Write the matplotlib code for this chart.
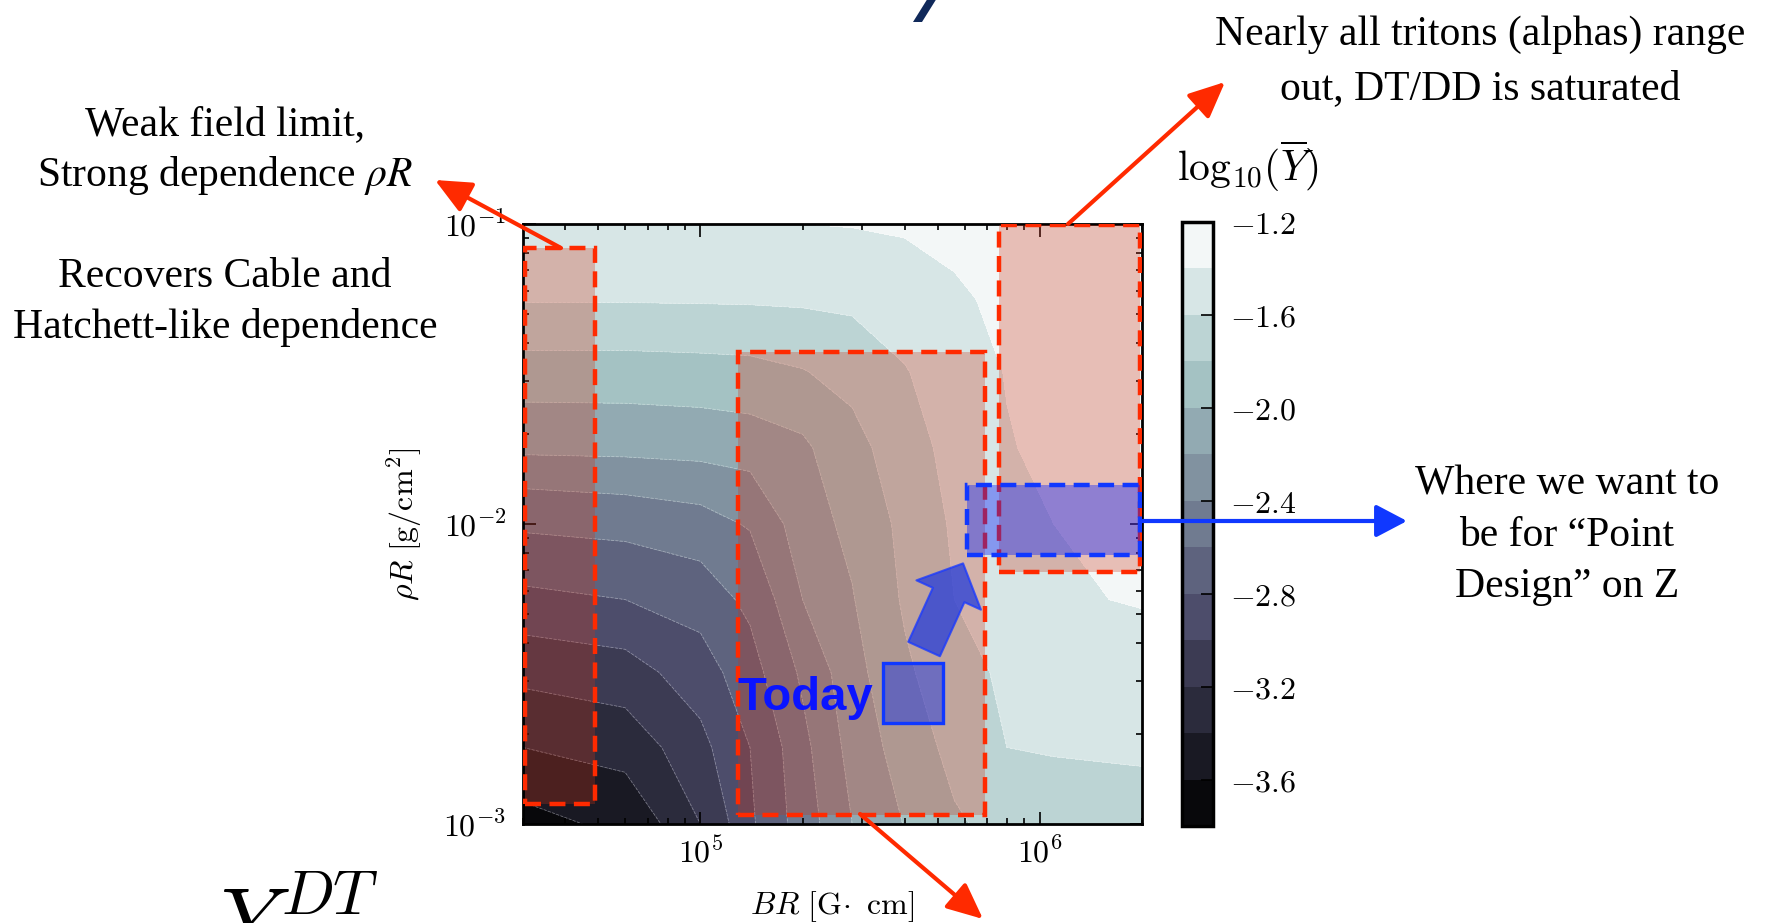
import numpy as np
import matplotlib
matplotlib.use("Agg")
import matplotlib.pyplot as plt
from matplotlib.patches import Rectangle, FancyArrowPatch, Polygon
from matplotlib.ticker import FixedLocator, FuncFormatter, LogLocator, NullFormatter

plt.rcParams['mathtext.fontset'] = 'cm'
plt.rcParams['axes.unicode_minus'] = True

# ---------------- data ----------------
BR = [3.0e4, 6.0e4, 1.0e5, 1.4e5, 2.0e5, 2.8e5, 4.0e5, 5.6e5, 8.0e5, 1.1e6, 1.6e6, 2.0e6]       # G cm
RHOR = [1.0e-3, 1.8e-3, 3.2e-3, 5.6e-3, 1.0e-2, 1.8e-2, 3.2e-2, 5.6e-2, 1.0e-1]                  # g/cm^2
LOG_Y = [
    [-3.66, -3.54, -3.20, -2.83, -2.49, -2.20, -1.99, -1.82, -1.74, -1.71, -1.69, -1.68],
    [-3.40, -3.31, -3.05, -2.80, -2.45, -2.12, -1.90, -1.74, -1.60, -1.58, -1.57, -1.565],
    [-3.13, -3.07, -2.89, -2.67, -2.36, -2.06, -1.83, -1.67, -1.56, -1.51, -1.49, -1.48],
    [-2.84, -2.80, -2.70, -2.55, -2.20, -2.01, -1.77, -1.60, -1.50, -1.45, -1.40, -1.385],
    [-2.56, -2.52, -2.47, -2.38, -2.08, -1.95, -1.74, -1.57, -1.47, -1.40, -1.36, -1.35],
    [-2.15, -2.14, -2.12, -2.09, -2.03, -1.86, -1.68, -1.53, -1.41, -1.36, -1.32, -1.31],
    [-1.87, -1.87, -1.86, -1.85, -1.81, -1.73, -1.61, -1.50, -1.39, -1.33, -1.29, -1.28],
    [-1.585, -1.585, -1.58, -1.575, -1.565, -1.55, -1.50, -1.43, -1.35, -1.31, -1.28, -1.27],
    [-1.45, -1.45, -1.44, -1.425, -1.40, -1.39, -1.37, -1.33, -1.29, -1.26, -1.24, -1.23],
]
LEVELS = [-3.8, -3.6, -3.4, -3.2, -3.0, -2.8, -2.6, -2.4, -2.2, -2.0, -1.8, -1.6, -1.4, -1.2]
CBAR_TICKS = [-3.6, -3.2, -2.8, -2.4, -2.0, -1.6, -1.2]
X_TICKS = [1e5, 1e6]
Y_TICKS = [1e-3, 1e-2, 1e-1]
XLIM = (3.0e4, 2.0e6)
YLIM = (1.0e-3, 1.0e-1)

# annotated regions (BR_min, BR_max, rhoR_min, rhoR_max)
WEAK_BOX = (3.04e4, 4.89e4, 1.17e-3, 8.3e-2)
MID_BOX = (1.29e5, 6.89e5, 1.07e-3, 3.74e-2)
SAT_BOX = (7.57e5, 1.97e6, 6.93e-3, 9.9e-2)
POINT_BOX = (6.12e5, 1.97e6, 7.88e-3, 1.346e-2)
TODAY_BOX = (3.46e5, 5.2e5, 2.17e-3, 3.43e-3)
TODAY_ARROW = ((4.56e5, 3.83e-3), (5.94e5, 7.39e-3))

# ---------------- figure ----------------
W, H, DPI = 1768, 923, 100
fig = plt.figure(figsize=(W / DPI, H / DPI), dpi=DPI)


def fx(px):
    return px / W


def fy(py):
    return 1 - py / H


ax = fig.add_axes([fx(523), fy(824), fx(1142) - fx(523), fy(224) - fy(824)])
cax = fig.add_axes([fx(1182), fy(826), fx(1213) - fx(1182), fy(222) - fy(826)])

Z = np.array(LOG_Y)
cs = ax.contourf(BR, RHOR, Z, levels=LEVELS, cmap='bone', zorder=1)
ax.contour(BR, RHOR, Z, levels=LEVELS, colors='white', linewidths=0.6, alpha=0.35, zorder=1.5)
ax.set_xscale('log')
ax.set_yscale('log')
ax.set_xlim(*XLIM)
ax.set_ylim(*YLIM)

pow_fmt = FuncFormatter(lambda v, p: r'$10^{%d}$' % int(round(np.log10(v))))
ax.xaxis.set_major_locator(FixedLocator(X_TICKS))
ax.yaxis.set_major_locator(FixedLocator(Y_TICKS))
ax.xaxis.set_major_formatter(pow_fmt)
ax.yaxis.set_major_formatter(pow_fmt)
ax.xaxis.set_minor_locator(LogLocator(base=10, subs=np.arange(2, 10)))
ax.yaxis.set_minor_locator(LogLocator(base=10, subs=np.arange(2, 10)))
ax.xaxis.set_minor_formatter(NullFormatter())
ax.yaxis.set_minor_formatter(NullFormatter())
ax.tick_params(which='both', direction='in', top=True, right=True, width=1.2, labelsize=23)
ax.tick_params(which='major', length=9)
ax.tick_params(which='minor', length=4.5)
ax.tick_params(axis='x', pad=10)
ax.tick_params(axis='y', pad=12)
for s in ax.spines.values():
    s.set_linewidth(2.0)

ax.set_xlabel(r'$BR\ [\mathrm{G}\!\cdot\ \mathrm{cm}]$', fontsize=23, labelpad=14)
ax.set_ylabel(r'$\rho R\ [\mathrm{g/cm^2}]$', fontsize=23, labelpad=14)

cb = fig.colorbar(cs, cax=cax, ticks=CBAR_TICKS)
cb.ax.yaxis.set_major_formatter(FuncFormatter(lambda v, p: r'$%.1f$' % v))
cb.ax.tick_params(direction='in', length=9, width=1.2, labelsize=23, pad=12)
cb.outline.set_linewidth(2.5)
fig.text(fx(1248), fy(181), r'$\mathrm{log}_{10}(\overline{Y})$', fontsize=30, ha='center', va='baseline')

# ---------------- overlays ----------------
RED_EDGE = '#ff2a00'
RED_FILL = '#cc3318'
BLUE_EDGE = '#1038ff'


def box(b, fc, ec, alpha, ls, z, lw=3.2):
    x0, x1, y0, y1 = b
    ax.add_patch(Rectangle((x0, y0), x1 - x0, y1 - y0, facecolor=fc, alpha=alpha,
                           edgecolor='none', zorder=z))
    ax.add_patch(Rectangle((x0, y0), x1 - x0, y1 - y0, facecolor='none', edgecolor=ec,
                           linewidth=lw, linestyle=ls, zorder=z + 0.5))


dash = (0, (3.6, 1.9))
box(WEAK_BOX, RED_FILL, RED_EDGE, 0.29, dash, 3)
box(MID_BOX, RED_FILL, RED_EDGE, 0.29, dash, 3)
box(SAT_BOX, RED_FILL, RED_EDGE, 0.29, dash, 3)
box(POINT_BOX, '#001aff', BLUE_EDGE, 0.38, dash, 5)
box(TODAY_BOX, '#2038e0', BLUE_EDGE, 0.5, '-', 5, lw=2.4)

ax.add_patch(FancyArrowPatch(TODAY_ARROW[0], TODAY_ARROW[1],
                             arrowstyle='simple,head_length=25,head_width=51,tail_width=25',
                             mutation_scale=1, shrinkA=0, shrinkB=0,
                             facecolor='#2a40d8', edgecolor='#1a3aff', alpha=0.78,
                             linewidth=1.5, zorder=7))
fig.text(fx(737), fy(710), 'Today', fontsize=34, fontweight='bold', family='Liberation Sans',
         color='#0a14ff', ha='left', va='baseline', zorder=8)


def fig_arrow(p0, p1, color, hl=22, hw=10, lw=3.0):
    a = FancyArrowPatch((fx(p0[0]), fy(p0[1])), (fx(p1[0]), fy(p1[1])),
                        transform=fig.transFigure,
                        arrowstyle='-|>,head_length=%g,head_width=%g' % (hl, hw),
                        mutation_scale=1, shrinkA=0, shrinkB=0,
                        color=color, linewidth=lw, zorder=10)
    fig.add_artist(a)


fig_arrow((561, 248), (435, 180), RED_EDGE)
fig_arrow((1068, 224), (1225, 82), RED_EDGE)
fig_arrow((860, 814), (983, 919), RED_EDGE)
fig_arrow((1142, 521), (1407, 521), BLUE_EDGE, hl=19, hw=10)

# ---------------- annotation texts ----------------
serif = 'Liberation Serif'
TS = 30
fig.text(fx(225), fy(135), 'Weak field limit,', fontsize=TS, family=serif, ha='center', va='baseline')
fig.text(fx(225), fy(186), r'Strong dependence $\rho R$', fontsize=TS, family=serif,
         math_fontfamily='stix', ha='center', va='baseline')
fig.text(fx(225), fy(287), 'Recovers Cable and', fontsize=TS, family=serif, ha='center', va='baseline')
fig.text(fx(225), fy(338), 'Hatchett-like dependence', fontsize=TS, family=serif, ha='center', va='baseline')
fig.text(fx(1480), fy(45), 'Nearly all tritons (alphas) range', fontsize=TS, family=serif,
         ha='center', va='baseline')
fig.text(fx(1480), fy(99), 'out, DT/DD is saturated', fontsize=TS, family=serif,
         ha='center', va='baseline')
fig.text(fx(1567), fy(495), 'Where we want to', fontsize=TS, family=serif, ha='center', va='baseline')
fig.text(fx(1567), fy(546), 'be for \u201cPoint', fontsize=TS, family=serif, ha='center', va='baseline')
fig.text(fx(1567), fy(597), 'Design\u201d on Z', fontsize=TS, family=serif, ha='center', va='baseline')

fig.text(fx(220), fy(950), r'$Y^{DT}$', fontsize=64, ha='left', va='baseline')
fig.add_artist(Polygon([(fx(913), fy(22)), (fx(922), fy(22)), (fx(937), fy(-2)), (fx(928), fy(-2))],
                       closed=True, transform=fig.transFigure, facecolor='#10295a',
                       edgecolor='none'))

fig.savefig('out.png', dpi=DPI)
